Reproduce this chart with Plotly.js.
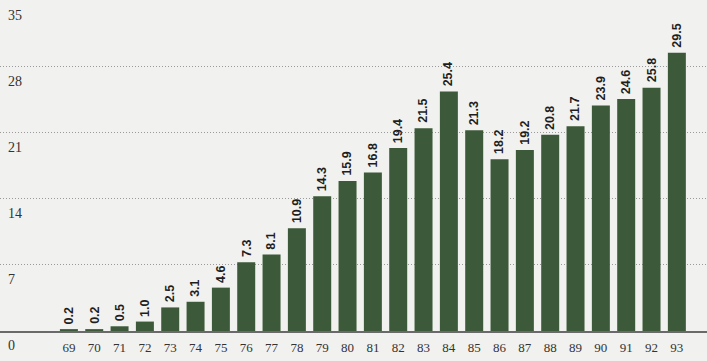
<!DOCTYPE html>
<html>
<head>
<meta charset="utf-8">
<script src="https://cdn.plot.ly/plotly-3.0.1.min.js"></script>
<style>html,body{margin:0;padding:0;background:#f1f1ef;}#chart{width:707px;height:361px;}</style>
</head>
<body>
<div id="chart"></div>
<script>
const years = ["69","70","71","72","73","74","75","76","77","78","79","80","81","82","83","84","85","86","87","88","89","90","91","92","93"];
const values = [0.2,0.2,0.5,1.0,2.5,3.1,4.6,7.3,8.1,10.9,14.3,15.9,16.8,19.4,21.5,25.4,21.3,18.2,19.2,20.8,21.7,23.9,24.6,25.8,29.5];
const yTicks = [0,7,14,21,28,35];

const idx = years.map((_, i) => i);

const trace = {
  type: 'bar',
  x: idx,
  y: values,
  marker: {color: '#3c5a39', line: {width: 0}},
  hoverinfo: 'skip'
};

const labels = values.map((v, i) => ({
  x: i,
  y: v,
  xref: 'x',
  yref: 'y',
  text: v.toFixed(1),
  textangle: -90,
  showarrow: false,
  xanchor: 'center',
  yanchor: 'bottom',
  yshift: 3,
  font: {family: 'Liberation Sans, Arial, sans-serif', size: 12.5, color: '#1e1e1e', weight: 'bold'}
}));

const layout = {
  width: 707,
  height: 361,
  margin: {l: 0, r: 0, t: 0, b: 30},
  paper_bgcolor: '#f1f1ef',
  plot_bgcolor: '#f1f1ef',
  bargap: 0.29,
  showlegend: false,
  annotations: labels,
  font: {family: 'Liberation Serif, Times New Roman, serif', color: '#333'},
  xaxis: {
    range: [-2.72, 25.19],
    tickvals: idx,
    ticktext: years,
    ticks: '',
    showgrid: false,
    zeroline: false,
    showline: true,
    linecolor: '#6a6a6a',
    linewidth: 1.5,
    ticklabelstandoff: 4,
    tickfont: {family: 'Liberation Serif, Times New Roman, serif', size: 13, color: '#333'}
  },
  yaxis: {
    range: [0, 35.1],
    tickvals: yTicks,
    ticktext: yTicks.map(String),
    ticks: '',
    showgrid: true,
    gridcolor: '#9a9a9a',
    griddash: '1px,2px',
    gridwidth: 1,
    zeroline: false,
    showline: false,
    ticklabelposition: 'inside',
    ticklabeloverflow: 'allow',
    ticklabelshift: 14,
    ticklabelstandoff: 5,
    tickfont: {family: 'Liberation Serif, Times New Roman, serif', size: 14, color: '#333'}
  }
};

Plotly.newPlot('chart', [trace], layout, {displayModeBar: false, staticPlot: true});
</script>
</body>
</html>
